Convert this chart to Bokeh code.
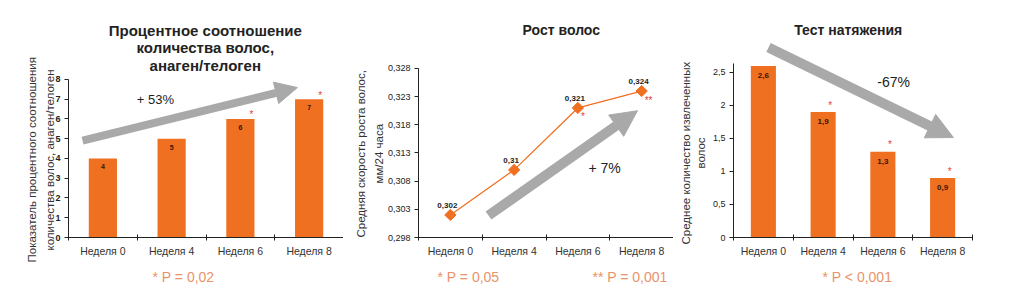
import math
from bokeh.plotting import figure
from bokeh.layouts import row
from bokeh.models import (ColumnDataSource, Range1d, FixedTicker, Label, Arrow, Title,
                          NormalHead, CustomJSTickFormatter)
from bokeh.core.properties import value
from bokeh.embed import file_html
from bokeh.resources import INLINE

# ---------------- data ----------------
weeks = ["Неделя 0", "Неделя 4", "Неделя 6", "Неделя 8"]

ratio_values = [4, 5, 6, 7]
ratio_sig = ["", "", "*", "*"]
ratio_ticks = [0, 1, 2, 3, 4, 5, 6, 7, 8]

growth_values = [0.302, 0.31, 0.321, 0.324]
growth_sig = ["", "", "*", "**"]
growth_ticks = [0.298, 0.303, 0.308, 0.313, 0.318, 0.323, 0.328]

pull_values = [2.6, 1.9, 1.3, 0.9]
pull_sig = ["", "*", "*", "*"]
pull_ticks = [0, 0.5, 1, 1.5, 2, 2.5]

titles = [
    ["Процентное соотношение", "количества волос,", "анаген/телоген"],
    ["Рост волос"],
    ["Тест натяжения"],
]
ylabels = [
    ["Показатель процентного соотношения", "количества волос, анаген/телоген"],
    ["Средняя скорость роста волос,", "мм/24 часа"],
    ["Среднее количество извлеченных", "волос"],
]
changes = ["+ 53%", "+ 7%", "-67%"]
notes = [
    "* P = 0,02",
    "* P = 0,05" + "\u00a0" * 24 + "** P = 0,001",
    "* P < 0,001",
]

FONT = "Liberation Sans"
ORANGE = "#F07022"
ARROW_GRAY = "#A9A9A9"
AST_RED = "#E8403A"
NOTE = "#E8936A"
DARK = "#222222"

xs = list(range(len(weeks)))


def make_fig(width, left, right, y_range, ticks, bounds):
    p = figure(width=width, height=298, output_backend="svg", toolbar_location=None,
               x_range=Range1d(-0.5, len(weeks) - 0.5), y_range=y_range,
               min_border_left=left, min_border_right=right,
               min_border_top=15, min_border_bottom=61)
    p.outline_line_color = None
    p.xgrid.grid_line_color = None
    p.ygrid.grid_line_color = None
    p.background_fill_color = "white"
    p.border_fill_color = "white"
    xa = p.xaxis[0]
    xa.ticker = FixedTicker(ticks=xs, minor_ticks=[i - 0.5 for i in range(len(weeks) + 1)])
    xa.major_label_overrides = {i: w for i, w in enumerate(weeks)}
    xa.major_tick_line_color = None
    xa.major_tick_in = 0
    xa.major_tick_out = 0
    xa.minor_tick_in = 3
    xa.minor_tick_out = 3
    xa.minor_tick_line_color = DARK
    xa.axis_line_color = DARK
    xa.major_label_text_font = FONT
    xa.major_label_text_font_size = "10.5px"
    xa.major_label_text_color = "#333333"
    xa.major_label_standoff = 4
    ya = p.yaxis[0]
    ya.ticker = FixedTicker(ticks=ticks, minor_ticks=[])
    ya.bounds = bounds
    ya.axis_line_color = DARK
    ya.major_tick_line_color = DARK
    ya.major_tick_in = 0
    ya.major_tick_out = 4
    ya.minor_tick_line_color = None
    ya.major_label_text_font = FONT
    ya.major_label_text_font_size = "9px"
    ya.major_label_text_color = DARK
    ya.major_label_standoff = 4
    return p


def make_title(text, offset, standoff, valign):
    kw = dict(text=text, align="left", offset=offset, vertical_align=valign,
              text_font=FONT, text_font_size="11.5px", text_font_style="normal",
              text_color="#333333")
    try:
        return Title(standoff=standoff, **kw)
    except Exception:
        return Title(standoff=max(standoff, 0), **kw)


def add_ylabel(p, lines, offsets, standoffs, valigns):
    # inner line first (closest to the axis), then the outer line
    for k in (1, 0):
        p.add_layout(make_title(lines[k], offsets[k], standoffs[k], valigns[k]), "left")


def add_note(p, text, offset):
    p.add_layout(Title(text=text, align="left", offset=offset, standoff=14,
                       text_font=FONT, text_font_size="14px", text_font_style="normal",
                       text_color=NOTE), "below")


def add_label(p, x, y, text, size, color=DARK, style="normal", align="center"):
    p.add_layout(Label(x=x, y=y, text=text, text_font=FONT, text_font_size=size,
                       text_color=color, text_font_style=style, text_align=align,
                       text_baseline="middle"))


def add_arrow(p, x0, y0, x1, y1, lw, head):
    p.add_layout(Arrow(x_start=x0, y_start=y0, x_end=x1, y_end=y1,
                       line_color=ARROW_GRAY, line_width=lw,
                       end=NormalHead(size=head, fill_color=ARROW_GRAY,
                                      line_color=ARROW_GRAY, line_width=1)))


# ---------------- panel 1 ----------------
p1 = make_fig(343, 68, 0, Range1d(0, 11.24), ratio_ticks, (0, 8))
p1.yaxis[0].major_label_text_font_style = "bold"
add_ylabel(p1, ylabels[0], [-25, -13], [14, -6], ["bottom", "bottom"])
src1 = ColumnDataSource(dict(x=xs, top=ratio_values, lab=[str(v) for v in ratio_values],
                             sig=ratio_sig))
p1.vbar(x="x", top="top", width=0.41, source=src1, fill_color=ORANGE, line_color=None)
p1.text(x="x", y="top", text="lab", source=src1, text_font=value(FONT),
        text_font_size="7px", text_font_style="bold", text_color="#3a1500",
        text_align="center", text_baseline="top", y_offset=6)
p1.text(x="x", y="top", text="sig", source=src1, text_font=value(FONT),
        text_font_size="10px", text_color=AST_RED, text_align="center",
        text_baseline="middle", x_offset=11, y_offset=-4)
for i, line in enumerate(titles[0]):
    add_label(p1, 1.49, 10.48 - i * 0.88, line, "15px", style="bold")
add_arrow(p1, -0.296, 4.91, 2.83, 7.59, 8, 22)
add_label(p1, 0.765, 6.99, changes[0], "13px")
add_note(p1, notes[0], 84)

# ---------------- panel 2 ----------------
p2 = make_fig(330, 75, 0, Range1d(0.298, 0.337408), growth_ticks, (0.298, 0.328))
p2.yaxis[0].formatter = CustomJSTickFormatter(code="return tick.toFixed(3).replace('.', ',');")
add_ylabel(p2, ylabels[1], [0, 54], [7, 0], ["bottom", "bottom"])
src2 = ColumnDataSource(dict(x=xs, y=growth_values,
                             lab=[str(v).replace(".", ",") for v in growth_values],
                             sig=growth_sig))
p2.line(x="x", y="y", source=src2, line_color=ORANGE, line_width=1.3)
p2.scatter(x="x", y="y", source=src2, marker="square", size=8, angle=math.pi / 4,
           fill_color=ORANGE, line_color=ORANGE)
p2.text(x="x", y="y", text="lab", source=src2, text_font=value(FONT),
        text_font_size="8px", text_font_style="bold", text_color=DARK,
        text_align="center", text_baseline="bottom", x_offset=-3, y_offset=-7)
p2.text(x="x", y="y", text="sig", source=src2, text_font=value(FONT),
        text_font_size="10px", text_color=AST_RED, text_align="left",
        text_baseline="middle", x_offset=3, y_offset=9)
add_label(p2, 1.74, 0.3349, titles[1][0], "14px", style="bold")
add_arrow(p2, 0.598, 0.3019, 2.935, 0.3205, 10, 26)
add_label(p2, 2.42, 0.3104, changes[1], "14px")
add_note(p2, notes[1], 19)

# ---------------- panel 3 ----------------
p3 = make_fig(351, 60, 52, Range1d(0, 3.3636), pull_ticks, (0, 2.64))
p3.yaxis[0].formatter = CustomJSTickFormatter(code="return String(tick).replace('.', ',');")
add_ylabel(p3, ylabels[2], [-7, 69], [3, 2], ["bottom", "top"])
src3 = ColumnDataSource(dict(x=xs, top=pull_values,
                             lab=[str(v).replace(".", ",") for v in pull_values],
                             sig=pull_sig))
p3.vbar(x="x", top="top", width=0.42, source=src3, fill_color=ORANGE, line_color=None)
p3.text(x="x", y="top", text="lab", source=src3, text_font=value(FONT),
        text_font_size="8px", text_font_style="bold", text_color="#3a1500",
        text_align="center", text_baseline="top", y_offset=7)
p3.text(x="x", y="top", text="sig", source=src3, text_font=value(FONT),
        text_font_size="10px", text_color=AST_RED, text_align="center",
        text_baseline="middle", x_offset=7, y_offset=-7)
add_label(p3, 1.42, 3.15, titles[2][0], "14px", style="bold")
add_arrow(p3, 0.086, 2.88, 3.18, 1.515, 10, 26)
add_label(p3, 2.18, 2.35, changes[2], "14px")
add_note(p3, notes[2], 89)

layout = row(p1, p2, p3)
open("out.html", "w").write(file_html(layout, INLINE))
